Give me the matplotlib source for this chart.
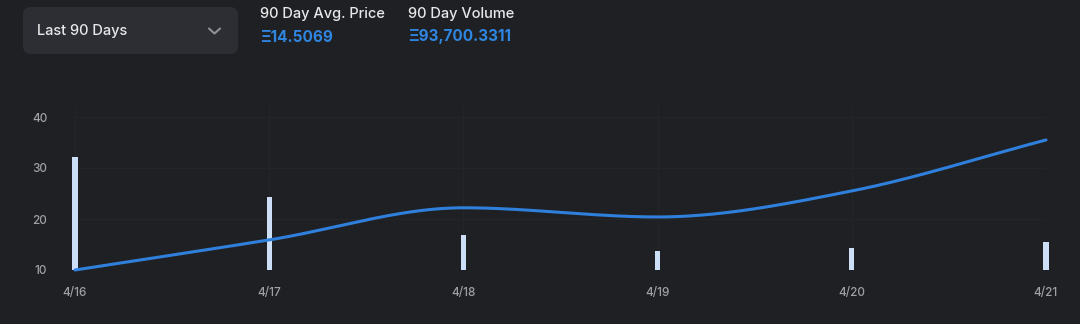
import numpy as np
import matplotlib.pyplot as plt
from matplotlib.patches import FancyBboxPatch

dates = ["4/16", "4/17", "4/18", "4/19", "4/20", "4/21"]
price = [10.0, 15.9, 22.2, 20.4, 25.5, 35.5]
volume = [32.2, 24.3, 16.9, 13.7, 14.3, 15.5]
yticks = [10, 20, 30, 40]
avg_price = "Ξ14.5069"
total_volume = "Ξ93,700.3311"


def monotone(x, y, n=60):
    # Fritsch-Carlson monotone cubic, like the chart lib's curve mode
    x = np.asarray(x, float); y = np.asarray(y, float)
    h = np.diff(x); d = np.diff(y) / h
    m = np.zeros_like(y)
    m[0], m[-1] = d[0], d[-1]
    for i in range(1, len(y) - 1):
        if d[i - 1] * d[i] <= 0:
            m[i] = 0
        else:
            m[i] = (d[i - 1] + d[i]) / 2
    for i in range(len(d)):
        if d[i] == 0:
            m[i] = m[i + 1] = 0
            continue
        a, b = m[i] / d[i], m[i + 1] / d[i]
        s = a * a + b * b
        if s > 9:
            t = 3 / np.sqrt(s)
            m[i] = t * a * d[i]; m[i + 1] = t * b * d[i]
    xs, ys = [], []
    for i in range(len(d)):
        t = np.linspace(0, 1, n)
        h00 = 2*t**3 - 3*t**2 + 1; h10 = t**3 - 2*t**2 + t
        h01 = -2*t**3 + 3*t**2; h11 = t**3 - t**2
        xs.append(x[i] + t * h[i])
        ys.append(h00*y[i] + h10*h[i]*m[i] + h01*y[i+1] + h11*h[i]*m[i+1])
    return np.concatenate(xs), np.concatenate(ys)


bg = "#1f2023"
plt.rcParams['font.family'] = ['Inter', 'DejaVu Sans']
fig = plt.figure(figsize=(10.8, 3.24), dpi=100, facecolor=bg)

W, H = 1080, 324
ax = fig.add_axes([75 / W, 1 - 270 / H, (1046 - 75) / W, (270 - 106.8) / H])
ax.set_facecolor(bg)
x = np.arange(len(dates))
ax.bar(x, [v - 10 for v in volume], bottom=10, width=0.026, color="#cddff6",
       clip_on=False, zorder=2)
sx, sy = monotone(x, price)
ax.plot(sx, sy, color="#2f80dc", lw=2.2, clip_on=False, zorder=3,
        solid_capstyle="round")
ax.set_xlim(0, len(dates) - 1)
ax.set_ylim(10, 42)
ax.set_xticks(x, dates)
ax.set_yticks(yticks)
ax.grid(True, color="#242529", lw=0.8)
ax.set_axisbelow(True)
for s in ax.spines.values():
    s.set_visible(False)
ax.tick_params(length=0, colors="#a0a0a4", labelsize=8.5)
ax.tick_params(axis="y", pad=20)
ax.tick_params(axis="x", pad=12)
for lab in ax.get_xticklabels() + ax.get_yticklabels():
    lab.set_fontweight("medium")

# header drawn in a pixel-space overlay
hd = fig.add_axes([0, 0, 1, 1], facecolor="none")
hd.set_xlim(0, W); hd.set_ylim(H, 0); hd.axis("off")
hd.add_patch(FancyBboxPatch((23, 7), 215, 47,
                            boxstyle="round,pad=0,rounding_size=8",
                            facecolor="#2c2e33", edgecolor="none"))
hd.text(37, 31, "Last 90 Days", color="#e8e8ea", fontsize=10.5,
        va="center", fontweight="medium")
hd.plot([209, 214.5, 220], [28.5, 33.5, 28.5], color="#8e9096", lw=1.5,
        solid_capstyle="round", solid_joinstyle="round")
hd.text(260, 14, "90 Day Avg. Price", color="#e8e8ea",
        fontsize=10.5, va="center", fontweight="medium")
hd.text(260, 37, avg_price, color="#2f86e0", fontsize=11,
        fontweight="bold", va="center")
hd.text(408, 14, "90 Day Volume", color="#e8e8ea",
        fontsize=10.5, va="center", fontweight="medium")
hd.text(408, 37, total_volume, color="#2f86e0", fontsize=11,
        fontweight="bold", va="center")

fig.savefig("out.png", dpi=100, facecolor=bg)
